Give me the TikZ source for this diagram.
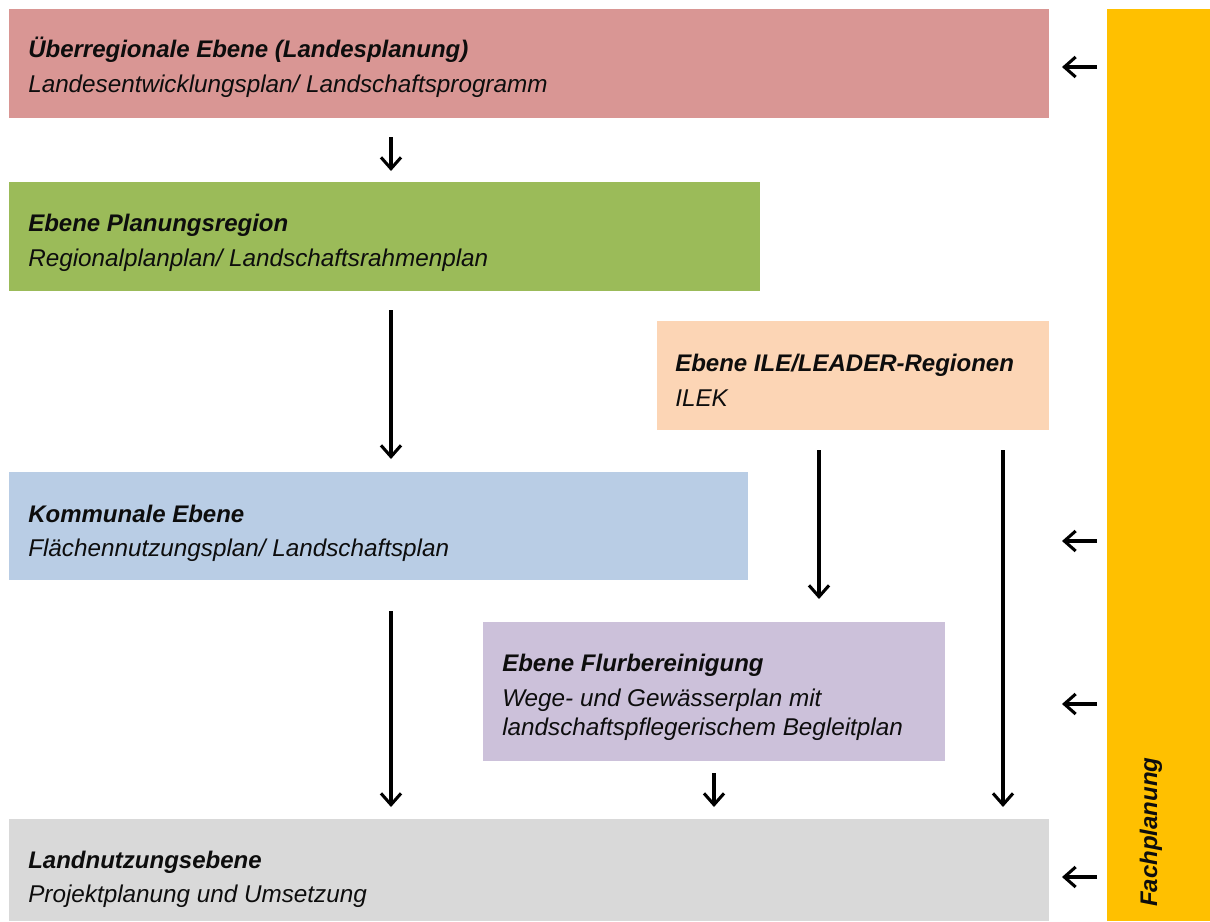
\documentclass[tikz,border=0pt]{standalone}
\usepackage{fontspec}
\setmainfont{Liberation Sans}
\usetikzlibrary{arrows.meta,fit}
\definecolor{cred}{HTML}{D99694}
\definecolor{cgreen}{HTML}{9BBB59}
\definecolor{cpeach}{HTML}{FCD5B5}
\definecolor{cblue}{HTML}{B9CDE5}
\definecolor{cpurple}{HTML}{CCC1DA}
\definecolor{cgray}{HTML}{D9D9D9}
\definecolor{cyellow}{HTML}{FFC000}
\definecolor{ctext}{HTML}{0D0D0D}
\tikzset{
  box/.style={inner sep=0pt, outer sep=0pt, draw=none},
  ttl/.style={anchor=base west, inner sep=0pt, font=\fontsize{18pt}{21pt}\selectfont\bfseries\itshape, text=ctext},
  sub/.style={anchor=base west, inner sep=0pt, font=\fontsize{18.2pt}{21.75pt}\selectfont\itshape, text=ctext, align=left},
  arr/.style={line width=2.3pt, -{Straight Barb[length=8.5pt,width=15pt]}, black},
}
\begin{document}
\begin{tikzpicture}[x=0.75pt,y=-0.75pt]
\useasboundingbox (0,0) rectangle (1210,921);
% boxes
\node[box, fill=cred, fit={(9,9) (1049,118)}] (red) {};
\node[box, fill=cgreen, fit={(9,182) (760,291)}] (green) {};
\node[box, fill=cpeach, fit={(657,321) (1049,430)}] (peach) {};
\node[box, fill=cblue, fit={(9,472) (748,580)}] (blue) {};
\node[box, fill=cpurple, fit={(483,622) (945,761)}] (purple) {};
\node[box, fill=cgray, fit={(9,819) (1049,921)}] (gray) {};
\node[box, fill=cyellow, fit={(1107,9) (1210,921)}] (yellow) {};
% texts
\node[ttl] (redt) at (28,57) {Überregionale Ebene (Landesplanung)};
\node[sub] (reds) at (28,92) {Landesentwicklungsplan/ Landschaftsprogramm};
\node[ttl] (greent) at (28,231) {Ebene Planungsregion};
\node[sub] (greens) at (28,266) {Regionalplanplan/ Landschaftsrahmenplan};
\node[ttl] (peacht) at (675,371) {Ebene ILE/LEADER-Regionen};
\node[sub] (peachs) at (675,406) {ILEK};
\node[ttl] (bluet) at (28,522) {Kommunale Ebene};
\node[sub] (blues) at (28,556) {Flächennutzungsplan/ Landschaftsplan};
\node[ttl] (purplet) at (502,671) {Ebene Flurbereinigung};
\node[sub] (purples) at (502,735) {Wege- und Gewässerplan mit\\landschaftspflegerischem Begleitplan};
\node[ttl] (grayt) at (28,868) {Landnutzungsebene};
\node[sub] (grays) at (28,902) {Projektplanung und Umsetzung};
\node[ttl, rotate=90] (fach) at (1157,907) {Fachplanung};
% arrow end points
\coordinate (a1s) at (391,137); \coordinate (a1e) at (391,171);
\coordinate (a2s) at (391,310); \coordinate (a2e) at (391,459);
\coordinate (a3s) at (819,450); \coordinate (a3e) at (819,599);
\coordinate (a4s) at (1003,450); \coordinate (a4e) at (1003,807);
\coordinate (a5s) at (391,611); \coordinate (a5e) at (391,807);
\coordinate (a6s) at (714,773); \coordinate (a6e) at (714,807);
\coordinate (l1s) at (1097,67); \coordinate (l1e) at (1062,67);
\coordinate (l2s) at (1097,541); \coordinate (l2e) at (1062,541);
\coordinate (l3s) at (1097,704); \coordinate (l3e) at (1062,704);
\coordinate (l4s) at (1097,877); \coordinate (l4e) at (1062,877);
% arrows
\foreach \a in {a1,a2,a3,a4,a5,a6,l1,l2,l3,l4}
  \draw[arr] (\a s) -- (\a e);
\end{tikzpicture}
\end{document}
